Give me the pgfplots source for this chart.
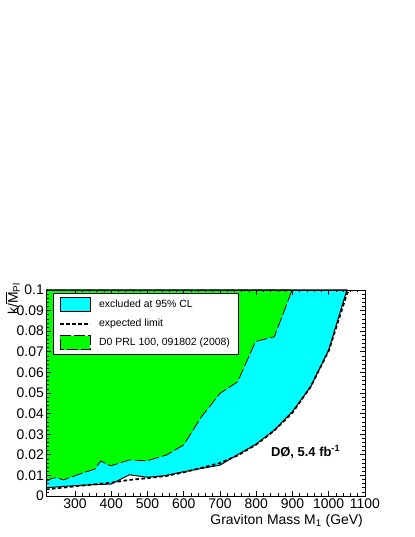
\documentclass[border=0pt]{standalone}
\usepackage{amsmath}
\usepackage{fontspec}
\setmainfont{Liberation Sans}
\usepackage{pgfplots}
\pgfplotsset{compat=1.18}
\definecolor{rootcyan}{RGB}{0,255,255}
\definecolor{rootgreen}{RGB}{0,255,0}
\pgfplotsset{
    boxlegend/.style={legend image code/.code={\draw[##1] (0bp,-7bp) rectangle (30bp,7bp);}},
    linelegend/.style={legend image code/.code={\draw[##1] (0bp,0bp) -- (30bp,0bp);}},
}
\begin{document}
\begin{tikzpicture}
\path[use as bounding box] (0,0) rectangle (415bp,537bp);
\begin{axis}[
    at={(46bp,41bp)}, anchor=south west,
    scale only axis, width=319bp, height=206bp,
    xmin=220, xmax=1100, ymin=0, ymax=0.1,
    axis on top,
    axis line style={line width=0.8bp},
    tick align=inside,
    major tick length=5bp, minor tick length=2.5bp,
    every tick/.style={black, line width=0.6bp},
    xtick={300,400,...,1100},
    minor x tick num=4,
    ytick={0,0.01,...,0.1},
    yticklabels={0,0.01,0.02,0.03,0.04,0.05,0.06,0.07,0.08,0.09,0.1},
    minor y tick num=4,
    /pgf/number format/assume math mode=true,
    /pgf/number format/1000 sep={},
    tick label style={font=\fontsize{14}{16}\selectfont},
    xticklabel style={inner ysep=0pt, yshift=-3bp},
    yticklabel style={inner xsep=2bp},
    scaled y ticks=false,
    xlabel={Graviton Mass M\textsubscript{1} (GeV)},
    xlabel style={font=\fontsize{14}{16}\selectfont, at={(axis description cs:0.994,-0.086)}, anchor=north east, inner sep=0pt},
    ylabel={k/$\overline{\text{M}}_{\text{Pl}}$},
    ylabel style={font=\fontsize{14}{16}\selectfont, at={(axis description cs:-0.128,1.034)}, anchor=north east, inner sep=0pt},
    legend style={at={(0.022,0.985)}, anchor=north west, draw=black, line width=0.6bp, fill=white,
        font=\fontsize{10.5}{12}\selectfont, row sep=5bp, inner xsep=6bp, inner ysep=4bp,
        /tikz/every odd column/.append style={column sep=6bp}},
    legend cell align=left,
]
% excluded region at 95% CL (observed limit as lower edge)
\addplot[fill=rootcyan, draw=black, line width=1bp, boxlegend]
coordinates {
    (220,0.0040) (250,0.0044) (300,0.0050) (350,0.0055) (400,0.0058)
    (450,0.0103) (500,0.0091) (550,0.0099) (600,0.0118) (650,0.0134)
    (700,0.0150) (750,0.0202) (800,0.0252) (850,0.0320) (900,0.0410)
    (950,0.0530) (1000,0.0709) (1050,0.1000) (220,0.1000)
} -- cycle;
\addlegendentry{excluded at 95\% CL}
% expected limit
\addplot[black, line width=1.8bp, dash pattern=on 3.5bp off 2.5bp, linelegend]
coordinates {
    (220,0.0032) (300,0.0047) (350,0.0056) (400,0.0065) (450,0.0078)
    (500,0.0087) (550,0.0097) (600,0.0115) (650,0.0137) (700,0.0160)
    (750,0.0198) (800,0.0250) (850,0.0318) (900,0.0405) (950,0.0530)
    (1000,0.0705) (1050,0.0980) (1055,0.1000)
};
\addlegendentry{expected limit}
% previous D0 result
\addplot[fill=rootgreen, draw=black, line width=0.8bp, dash pattern=on 11bp off 3bp, boxlegend]
coordinates {
    (220,0.0069) (236,0.0086) (250,0.0089) (268,0.0078) (318,0.0110)
    (355,0.0131) (371,0.0170) (398,0.0146) (450,0.0175) (499,0.0171)
    (552,0.0199) (600,0.0248) (649,0.0385) (700,0.0498) (749,0.0555)
    (798,0.0750) (850,0.0773) (899,0.1000) (220,0.1000)
} -- cycle;
\addlegendentry{D0 PRL 100, 091802 (2008)\hspace{6bp}}
\node[font=\bfseries\fontsize{13}{15}\selectfont] at (axis cs:936,0.0214) {DØ, 5.4 fb\textsuperscript{-1}};
\end{axis}
\end{tikzpicture}
\end{document}
